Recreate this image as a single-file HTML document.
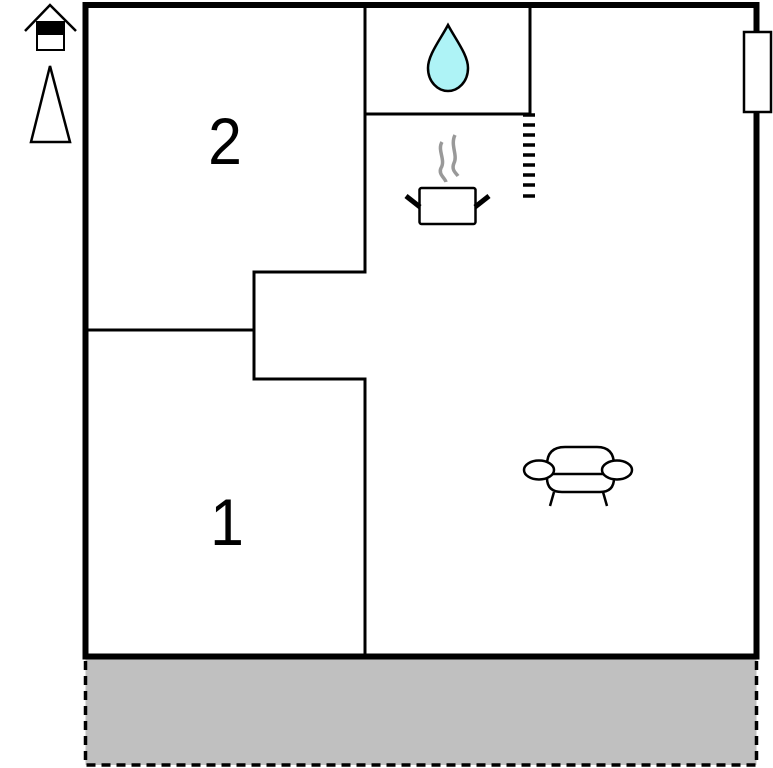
<!DOCTYPE html>
<html><head><meta charset="utf-8"><style>
html,body{margin:0;padding:0;background:#fff;width:773px;height:768px;overflow:hidden}
svg{display:block}
</style></head><body>
<svg width="773" height="768" viewBox="0 0 773 768" xmlns="http://www.w3.org/2000/svg">
<rect x="85.5" y="657" width="671" height="108" fill="#c0c0c0" stroke="#000" stroke-width="3.5" stroke-dasharray="9,6"/>
<g fill="none" stroke="#000" stroke-width="3" stroke-linecap="square">
<polyline points="365,5 365,272 254,272 254,379 365,379 365,657"/>
<line x1="85" y1="330" x2="254" y2="330"/>
<polyline points="365,114 530,114 530,5"/>
</g>
<g stroke="#000" stroke-width="3.5">
<line x1="523" y1="115" x2="535" y2="115"/><line x1="523" y1="125" x2="535" y2="125"/>
<line x1="523" y1="135" x2="535" y2="135"/><line x1="523" y1="145" x2="535" y2="145"/>
<line x1="523" y1="155" x2="535" y2="155"/><line x1="523" y1="165" x2="535" y2="165"/>
<line x1="523" y1="175" x2="535" y2="175"/><line x1="523" y1="185" x2="535" y2="185"/>
<line x1="523" y1="196" x2="535" y2="196"/>
</g>
<rect x="85.5" y="5" width="671" height="651.5" fill="none" stroke="#000" stroke-width="6"/>
<rect x="744" y="32" width="27" height="80" fill="#fff" stroke="#000" stroke-width="2.5"/>
<path d="M448,25 C440,40 428,55 428,68 C428,82 438,91 448,91 C458,91 468,82 468,68 C468,55 456,40 448,25Z" fill="#aef3f6" stroke="#000" stroke-width="2.5"/>
<g fill="none" stroke="#999" stroke-width="3.5">
<path d="M442,142 C437,150 446,160 441,168 C438,174 445,178 446,182"/>
<path d="M455,135 C450,145 458,155 454,163 C451,170 456,173 458,176"/>
</g>
<rect x="419.5" y="188" width="56" height="36" rx="2" fill="#fff" stroke="#000" stroke-width="2.5"/>
<line x1="406" y1="196" x2="420" y2="207" stroke="#000" stroke-width="5"/>
<line x1="489" y1="196" x2="475" y2="207" stroke="#000" stroke-width="5"/>
<g fill="#fff" stroke="#000" stroke-width="2.5">
<path d="M547,478 L547,465 Q547,447 565,447 L597,447 Q614,447 614,465 L614,478 Q614,492 600,492 L562,492 Q547,492 547,478Z"/>
<line x1="550" y1="474" x2="612" y2="474"/>
<ellipse cx="539" cy="470" rx="15" ry="9.5"/>
<ellipse cx="617" cy="470" rx="15" ry="9.5"/>
<line x1="554" y1="492" x2="550" y2="506"/>
<line x1="603" y1="492" x2="607" y2="506"/>
</g>
<text x="225" y="164" font-family="Liberation Sans, sans-serif" font-size="66" text-anchor="middle" transform="translate(225,0) scale(0.92,1) translate(-225,0)">2</text>
<text x="227" y="545" font-family="Liberation Sans, sans-serif" font-size="66" text-anchor="middle" transform="translate(227,0) scale(0.92,1) translate(-227,0)">1</text>
<polyline points="25,31 50,5 76,31" fill="none" stroke="#000" stroke-width="2.5"/>
<rect x="37" y="22" width="27" height="28" fill="#fff" stroke="#000" stroke-width="2"/>
<rect x="37" y="22" width="27" height="13" fill="#000"/>
<polygon points="50,66 31,142 70,142" fill="#fff" stroke="#000" stroke-width="2.5"/>
</svg>
</body></html>
